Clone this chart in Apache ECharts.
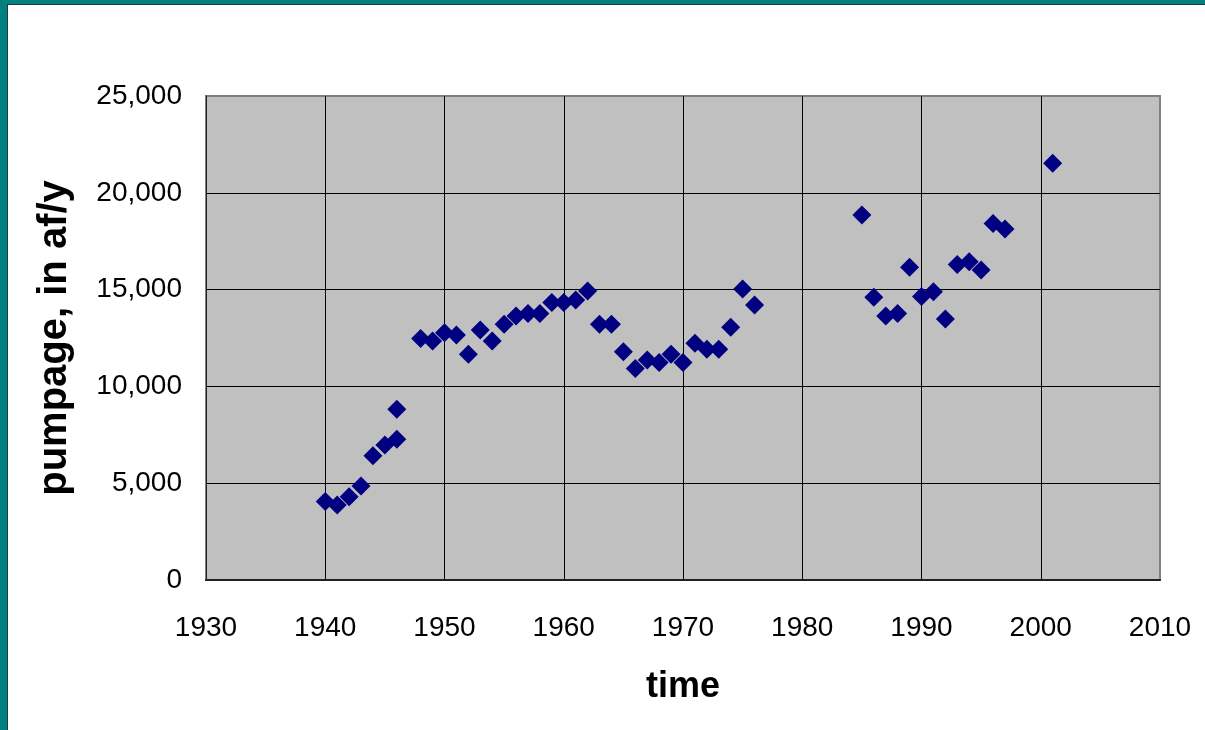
<!DOCTYPE html>
<html>
<head>
<meta charset="utf-8">
<script src="https://cdn.jsdelivr.net/npm/echarts@6/dist/echarts.min.js"></script>
<style>
  html, body { margin: 0; padding: 0; background: #ffffff; }
  #chart { position: absolute; left: 0; top: 0; width: 1205px; height: 730px; }
  .teal { position: absolute; background: #008080; }
  .dark { position: absolute; background: #1e3a3a; }
</style>
</head>
<body>
<div id="chart"></div>
<div class="teal" style="left:0;top:0;width:1205px;height:4px;"></div>
<div class="dark" style="left:7px;top:4px;width:1198px;height:1px;"></div>
<div class="teal" style="left:0;top:0;width:7px;height:730px;"></div>
<div class="dark" style="left:7px;top:4px;width:1px;height:726px;"></div>
<script>
const years = [1940, 1941, 1942, 1943, 1944, 1945, 1946, 1946, 1948, 1949,
  1950, 1951, 1952, 1953, 1954, 1955, 1956, 1957, 1958, 1959,
  1960, 1961, 1962, 1963, 1964, 1965, 1966, 1967, 1968, 1969,
  1970, 1971, 1972, 1973, 1974, 1975, 1976,
  1985, 1986, 1987, 1988, 1989, 1990, 1991, 1992, 1993, 1994, 1995, 1996, 1997,
  2001];
const pumpage = [4050, 3880, 4300, 4860, 6420, 6970, 7270, 8820, 12480, 12350,
  12770, 12650, 11660, 12910, 12350, 13210, 13640, 13770, 13770, 14330,
  14330, 14460, 14930, 13210, 13210, 11790, 10930, 11360, 11230, 11660,
  11230, 12230, 11920, 11920, 13050, 15030, 14200,
  18850, 14600, 13640, 13770, 16150, 14640, 14890, 13480, 16300, 16440, 16010, 18420, 18130,
  21520];
const xTicks = [1930, 1940, 1950, 1960, 1970, 1980, 1990, 2000, 2010];
const yTicks = [0, 5000, 10000, 15000, 20000, 25000];
const xTitle = 'time';
const yTitle = 'pumpage, in af/y';

const points = years.map((y, i) => [y, pumpage[i]]);
const chart = echarts.init(document.getElementById('chart'), null, { renderer: 'canvas' });
const font = 'Liberation Sans, Arial, sans-serif';
chart.setOption({
  animation: false,
  backgroundColor: '#ffffff',
  grid: {
    left: 206, right: 45, top: 96, bottom: 150,
    show: true, backgroundColor: '#C0C0C0', borderColor: '#808080', borderWidth: 2
  },
  xAxis: {
    type: 'value',
    min: xTicks[0], max: xTicks[xTicks.length - 1], interval: 10,
    name: xTitle, nameLocation: 'middle', nameGap: 89,
    nameTextStyle: { fontFamily: font, fontSize: 36, fontWeight: 'bold', color: '#000' },
    axisLine: { show: true, lineStyle: { color: '#202020', width: 2 } },
    axisTick: { show: false },
    axisLabel: { fontFamily: font, fontSize: 28, color: '#000', margin: 34,
      formatter: v => String(v) },
    splitLine: { show: true, showMinLine: false, showMaxLine: false, lineStyle: { color: '#000', width: 1 } }
  },
  yAxis: {
    type: 'value',
    min: yTicks[0], max: yTicks[yTicks.length - 1], interval: 5000,
    name: yTitle, nameLocation: 'middle', nameGap: 131, nameRotate: 90,
    nameTextStyle: { fontFamily: font, fontSize: 40, fontWeight: 'bold', color: '#000' },
    axisLine: { show: true, lineStyle: { color: '#202020', width: 1 } },
    axisTick: { show: false },
    axisLabel: { fontFamily: font, fontSize: 28, color: '#000', margin: 24,
      formatter: v => v.toLocaleString('en-US') },
    splitLine: { show: true, showMinLine: false, showMaxLine: false, lineStyle: { color: '#000', width: 1 } }
  },
  series: [{
    type: 'scatter',
    data: points,
    symbol: 'diamond',
    symbolSize: 19,
    itemStyle: { color: '#000080', opacity: 1 }
  }]
});
</script>
</body>
</html>
